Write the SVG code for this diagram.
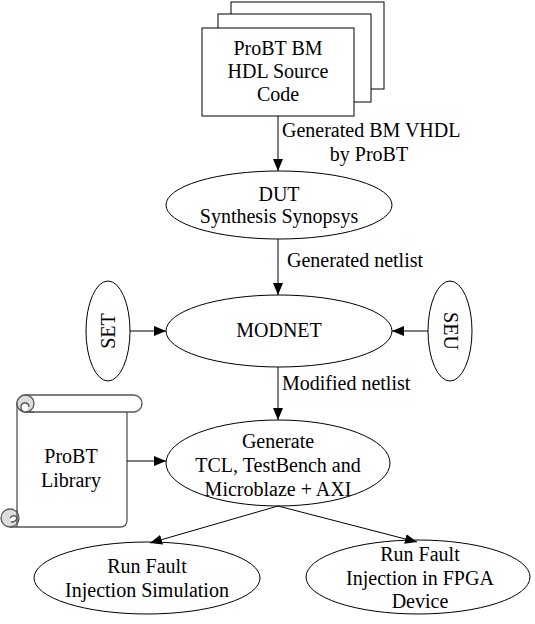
<svg xmlns="http://www.w3.org/2000/svg" width="535" height="624" viewBox="0 0 535 624" font-family="'Liberation Serif', 'Times New Roman', 'DejaVu Serif', serif" font-size="20">
<style>
.m{text-anchor:middle}
.n{fill:#fff;stroke:#000;stroke-width:1}
.c{fill:none;stroke:#000;stroke-width:1}
.s{stroke:#555;stroke-width:1.3}
</style>
<defs>
<marker id="a" viewBox="0 0 12 10" refX="12" refY="5" markerWidth="12" markerHeight="10" markerUnits="userSpaceOnUse" orient="auto">
<path d="M0,0 L12,5 L0,10 Z" fill="#000"/>
</marker>
</defs>
<rect width="535" height="624" fill="#fff"/>
<g id="source">
<rect class="n" x="231" y="2" width="153" height="87"/>
<rect class="n" x="218" y="14" width="153" height="88"/>
<rect class="n" x="202" y="28" width="152" height="88"/>
<text class="m" x="278" y="55">ProBT BM</text>
<text class="m" x="278" y="78">HDL Source</text>
<text class="m" x="278" y="101">Code</text>
</g>
<g id="dut">
<ellipse class="n" cx="279" cy="205" rx="113" ry="34"/>
<text class="m" x="279" y="201">DUT</text>
<text class="m" x="279" y="223">Synthesis Synopsys</text>
</g>
<g id="modnet">
<ellipse class="n" cx="279" cy="331" rx="113" ry="36"/>
<text class="m" x="279" y="337">MODNET</text>
</g>
<g id="set">
<ellipse class="n" cx="108" cy="331" rx="22" ry="50"/>
<text class="m" transform="translate(114.5,331) rotate(-90)">SET</text>
</g>
<g id="seu">
<ellipse class="n" cx="450" cy="331" rx="22" ry="50"/>
<text class="m" transform="translate(443.5,331) rotate(90)">SEU</text>
</g>
<g id="generate">
<ellipse class="n" cx="278" cy="463" rx="112" ry="43"/>
<text class="m" x="278" y="448">Generate</text>
<text class="m" x="278" y="472">TCL, TestBench and</text>
<text class="m" x="278" y="496">Microblaze + AXI</text>
</g>
<g id="library">
<path d="M17,403 V527 H120 Q127,527 127,520 V412 H17 Z" fill="#fff"/>
<path class="s" d="M17,403 V518 M10,527 H120 Q127,527 127,520 V412" fill="none"/>
<rect class="s" x="17" y="395" width="125" height="17" rx="8.5" fill="#fff"/>
<circle class="s" cx="25.5" cy="403.5" r="8.5" fill="#ddd"/>
<path class="s" d="M25.5,412 Q21,412 21,407 Q21,403 25,403 Q29,403 29,407" fill="#fff"/>
<path class="s" d="M25.5,412 H34" fill="none"/>
<circle class="s" cx="10" cy="518" r="9" fill="#ddd"/>
<path class="s" d="M10,518 Q14,513 17,518 Q16,522 11,522" fill="#fff"/>
<path class="s" d="M17,510 V527" fill="none"/>
<text class="m" x="71" y="463">ProBT</text>
<text class="m" x="71" y="487">Library</text>
</g>
<g id="simulation">
<ellipse class="n" cx="147" cy="578" rx="113" ry="36"/>
<text class="m" x="147" y="573">Run Fault</text>
<text class="m" x="147" y="597">Injection Simulation</text>
</g>
<g id="fpga">
<ellipse class="n" cx="418" cy="577" rx="112" ry="37"/>
<text class="m" x="420" y="561">Run Fault</text>
<text class="m" x="420" y="585">Injection in FPGA</text>
<text class="m" x="420" y="608">Device</text>
</g>
<g id="connectors">
<path class="c" d="M278,116 V171" marker-end="url(#a)"/>
<path class="c" d="M278,239 V295" marker-end="url(#a)"/>
<path class="c" d="M130,331 H166" marker-end="url(#a)"/>
<path class="c" d="M428,331 H392" marker-end="url(#a)"/>
<path class="c" d="M278,367 V420" marker-end="url(#a)"/>
<path class="c" d="M127,461 H166" marker-end="url(#a)"/>
<path class="c" d="M278,506 L150,543" marker-end="url(#a)"/>
<path class="c" d="M278,506 L417,542" stroke-width="1.8" marker-end="url(#a)"/>
<text x="282" y="137">Generated BM VHDL</text>
<text class="m" x="369" y="161">by ProBT</text>
<text x="287" y="267">Generated netlist</text>
<text x="282" y="390">Modified netlist</text>
</g>
</svg>
